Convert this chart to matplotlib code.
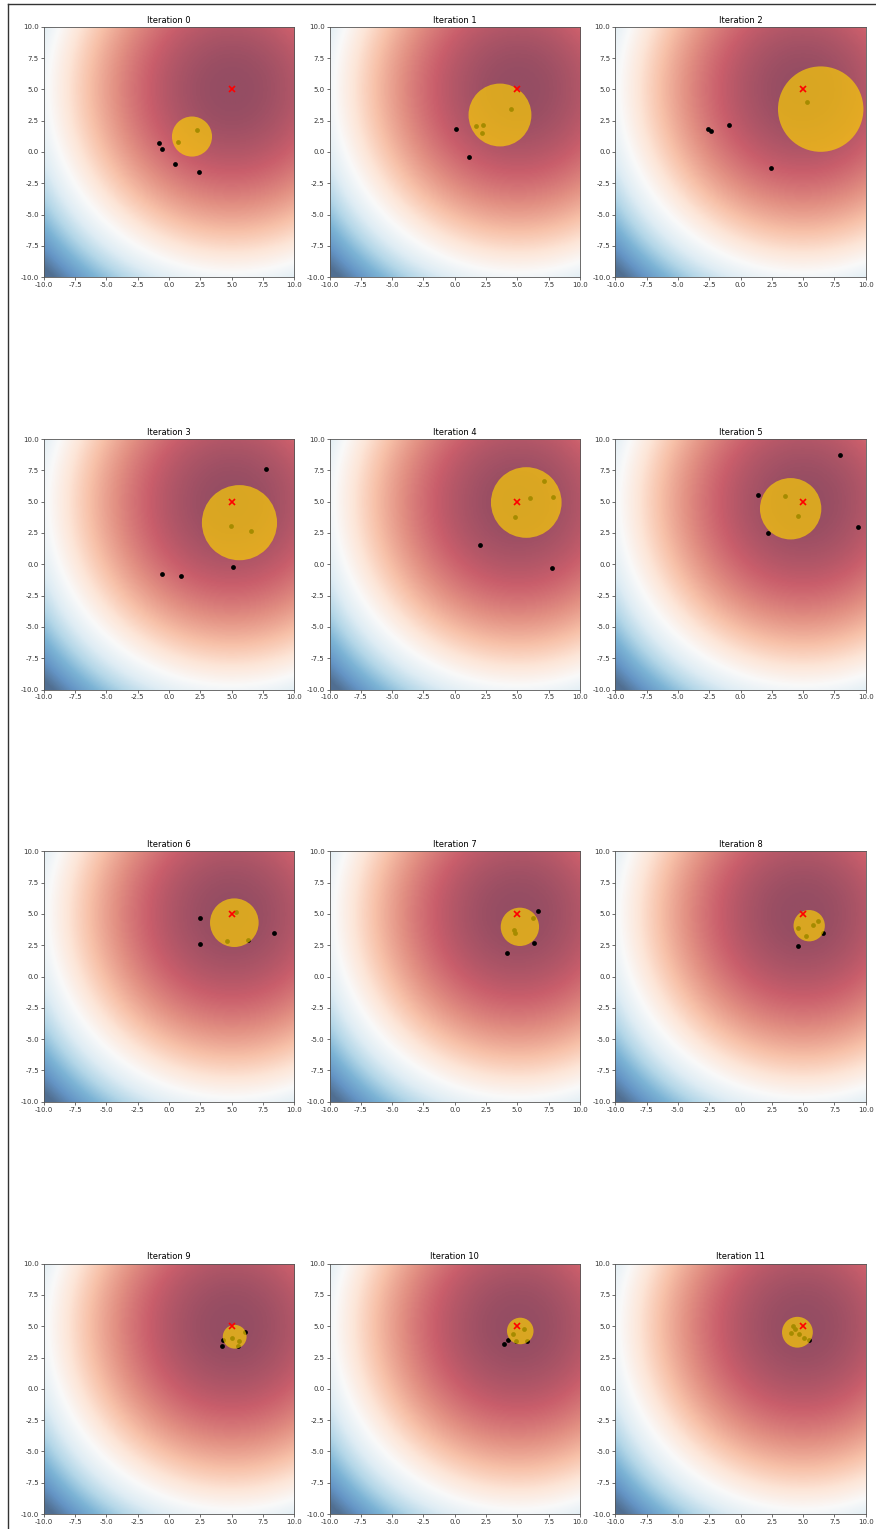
import matplotlib
matplotlib.use('Agg')
import matplotlib.pyplot as plt
import numpy as np
from matplotlib.patches import Circle
from matplotlib.lines import Line2D

# 目标点
target_x = 5.0
target_y = 5.0

# 每次迭代的采样点
sample_x = [
    [-0.80, -0.59, 0.48, 2.40, 0.74, 2.26],
    [0.10, 1.16, 1.70, 2.22, 2.18, 4.50],
    [-2.61, -2.37, -0.96, 2.46, 5.31],
    [7.76, -0.57, 0.95, 5.14, 4.99, 6.54],
    [1.98, 7.79, 4.79, 5.98, 7.16, 7.86],
    [7.96, 1.41, 2.18, 9.37, 3.55, 4.55],
    [2.50, 2.50, 8.36, 5.34, 4.65, 6.34],
    [6.62, 6.29, 4.21, 6.26, 4.77, 4.80],
    [6.58, 4.58, 4.58, 5.22, 5.78, 6.21],
    [4.30, 4.27, 6.05, 5.00, 5.60, 5.49],
    [3.96, 4.22, 5.80, 5.55, 4.64, 4.93],
    [4.21, 4.36, 4.02, 4.66, 5.04, 5.46],
]
sample_y = [
    [0.70, 0.22, -0.98, -1.62, 0.78, 1.76],
    [1.84, -0.37, 2.11, 2.16, 1.55, 3.39],
    [1.82, 1.68, 2.14, -1.30, 3.95],
    [7.62, -0.80, -0.90, -0.21, 3.07, 2.67],
    [1.54, -0.30, 3.76, 5.25, 6.64, 5.37],
    [8.75, 5.55, 2.48, 3.01, 5.41, 3.84],
    [4.64, 2.58, 3.49, 5.12, 2.85, 2.90],
    [5.20, 2.69, 1.86, 4.66, 3.74, 3.46],
    [3.46, 2.47, 3.86, 3.25, 4.08, 4.42],
    [3.94, 3.46, 4.55, 4.05, 3.85, 3.46],
    [3.62, 3.89, 3.80, 4.80, 4.37, 3.85],
    [4.98, 4.74, 4.42, 4.37, 4.02, 3.94],
]

# 每次迭代的圆 (均值和半径)
circle_x = [1.84, 3.61, 6.40, 5.63, 5.71, 4.00, 5.22, 5.20, 5.48, 5.25, 5.23, 4.54]
circle_y = [1.23, 2.95, 3.42, 3.32, 4.93, 4.43, 4.30, 3.97, 4.06, 4.16, 4.62, 4.52]
circle_r = [1.60, 2.51, 3.41, 3.00, 2.82, 2.45, 1.94, 1.53, 1.25, 0.95, 1.06, 1.23]

# 背景函数
n = 200
a = np.linspace(-10, 10, n)
X, Y = np.meshgrid(a, a)
Z = -((X - target_x) ** 2 + (Y - target_y) ** 2)

W, H = 876, 1529
fig = plt.figure(figsize=(W / 100, H / 100), dpi=100)

# 子图位置 (像素)
lefts = [43.7, 329.5, 615.3]
tops = [26.7, 439.0, 851.3, 1263.6]
size = 250.5

ticks = [-10.0, -7.5, -5.0, -2.5, 0.0, 2.5, 5.0, 7.5, 10.0]

for i in range(12):
    r, c = divmod(i, 3)
    ax = fig.add_axes([lefts[c] / W, 1 - (tops[r] + size) / H, size / W, size / H])
    ax.imshow(Z, extent=[-10, 10, -10, 10], origin='lower', cmap='RdBu_r',
              vmin=-430, vmax=0, alpha=0.7, aspect='auto', interpolation='bilinear')
    ax.scatter(sample_x[i], sample_y[i], c='k', s=12, lw=0, zorder=2)
    ax.add_patch(Circle((circle_x[i], circle_y[i]), circle_r[i],
                        color='gold', alpha=0.65, lw=0, zorder=3))
    ax.plot(target_x, target_y, 'rx', ms=4, mew=1.2, zorder=4)
    ax.set_xlim(-10, 10)
    ax.set_ylim(-10, 10)
    ax.set_xticks(ticks)
    ax.set_yticks(ticks)
    ax.set_xticklabels(['%.1f' % t for t in ticks])
    ax.set_yticklabels(['%.1f' % t for t in ticks])
    ax.tick_params(labelsize=5, length=2, width=0.5, pad=1.5, colors='#333333')
    for s in ax.spines.values():
        s.set_linewidth(0.6)
        s.set_color('#555555')
    ax.set_title('Iteration %d' % i, fontsize=6, pad=3)

# 外框线
fig.add_artist(Line2D([8.3 / W, 8.3 / W], [0, 1 - 4.3 / H], color='#333333', lw=1))
fig.add_artist(Line2D([8.3 / W, 1], [1 - 4.3 / H, 1 - 4.3 / H], color='#333333', lw=1))

plt.savefig('out.png', dpi=100)
